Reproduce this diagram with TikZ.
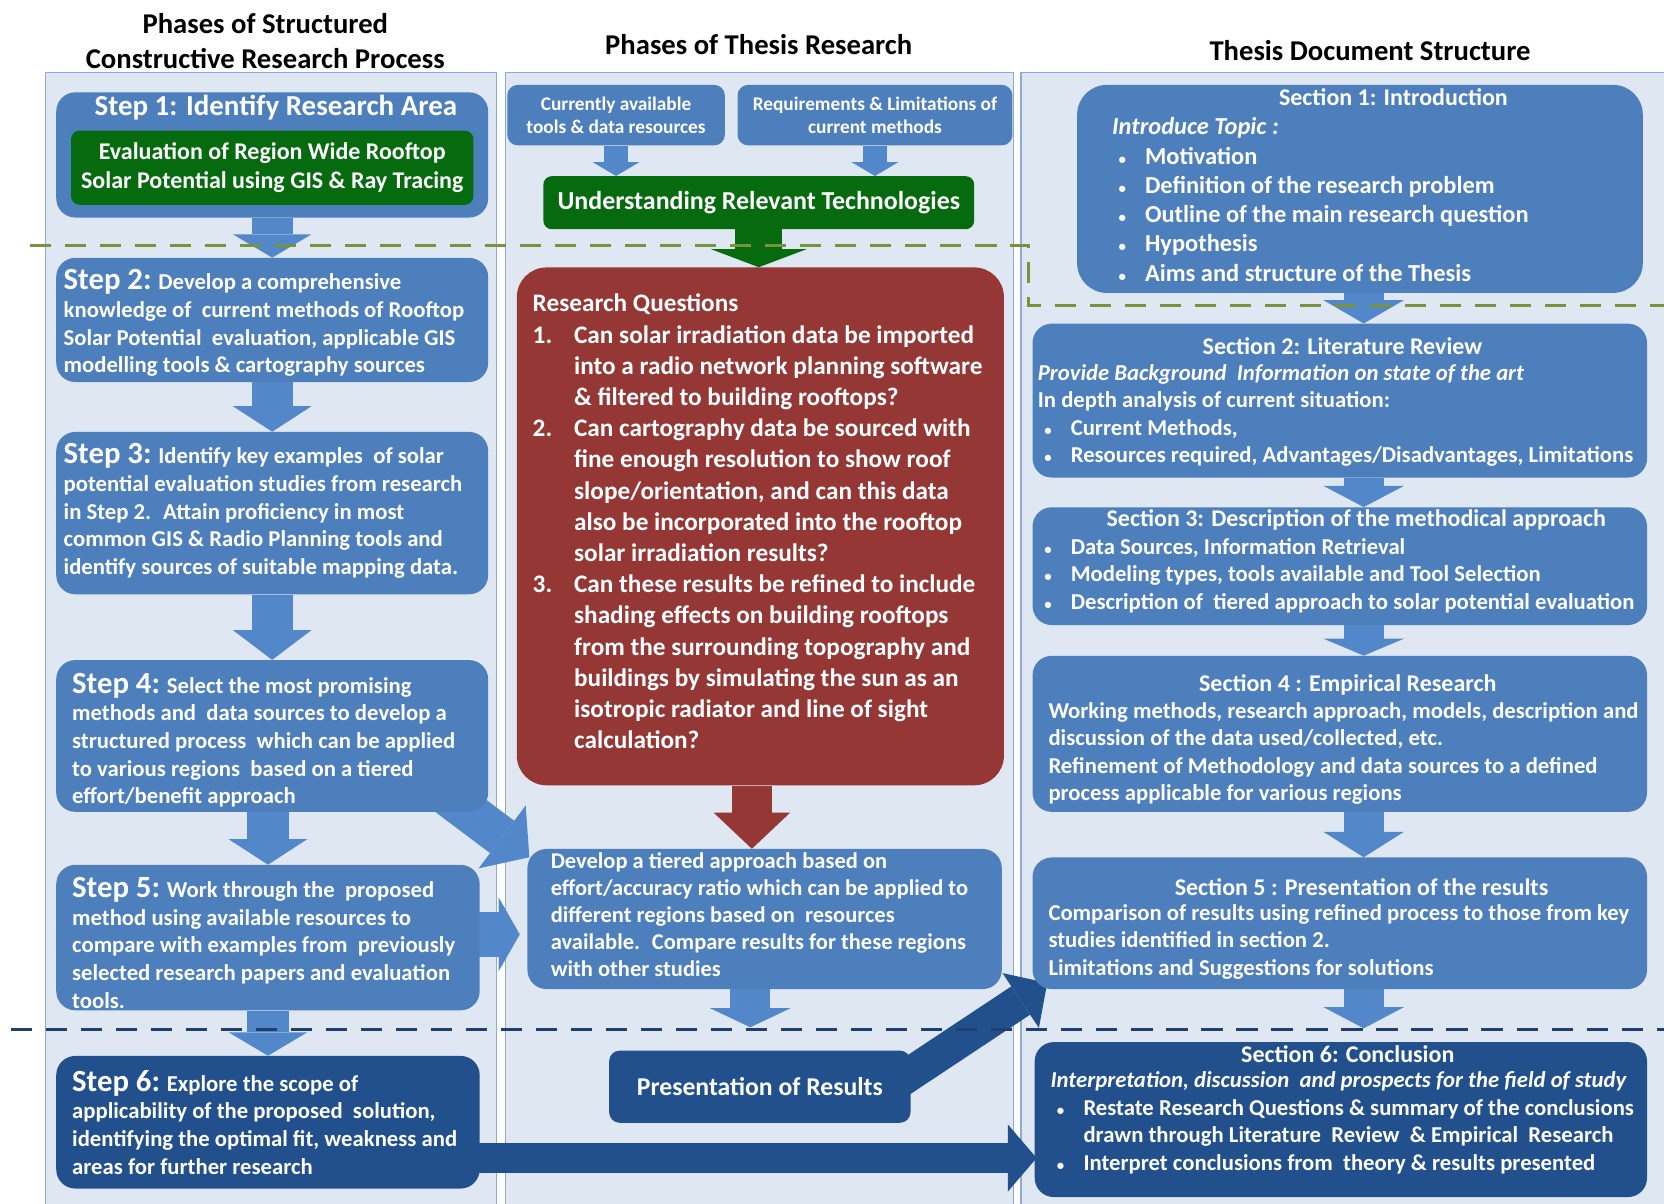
\documentclass[tikz,border=0pt]{standalone}
\usepackage{fontspec}
\setmainfont{Carlito}
\usetikzlibrary{arrows.meta,calc}

\pgfdeclarelayer{panels}
\pgfdeclarelayer{under}
\pgfsetlayers{panels,under,main}

\definecolor{panelfill}{HTML}{DFE7F2}
\definecolor{panelline}{HTML}{8FAAD6}
\definecolor{boxblue}{HTML}{4D7FBD}
\definecolor{boxdark}{HTML}{21508C}
\definecolor{boxgreen}{HTML}{066B0E}
\definecolor{boxred}{HTML}{953735}
\definecolor{arrowblue}{HTML}{5288C9}
\definecolor{dashgreen}{HTML}{77933C}
\definecolor{dashnavy}{HTML}{1F3F6E}

\newcommand{\fsz}[2]{\fontsize{#1}{#2}\selectfont}
\newcommand{\smallbullet}{{\fsz{14}{14}\textbullet}}
\newcommand{\bitem}[1]{\hspace*{6pt}\makebox[25pt][l]{\smallbullet}#1}
\newcommand{\bcont}{\hspace*{31pt}}
\newcommand{\qnum}[1]{\makebox[39pt][l]{#1}}
\newcommand{\qcont}{\hspace*{39pt}}
\newcommand{\stepno}[1]{{\fsz{29}{26}#1}}

\tikzset{
  card/.style={rounded corners=18pt, inner sep=0pt, draw=none},
  bluecard/.style={card, fill=boxblue},
  darkcard/.style={card, fill=boxdark},
  greencard/.style={card, fill=boxgreen},
  redcard/.style={card, fill=boxred},
  txt/.style={text=white, font=\bfseries\fsz{21.4}{26}, align=left, inner sep=0pt, anchor=west},
  ctxt/.style={text=white, font=\bfseries\fsz{22.6}{26}, align=center, inner sep=0pt},
  coltitle/.style={text=black, font=\bfseries\fsz{27}{33}, align=center, inner sep=0pt},
  panel/.style={draw=panelline, line width=1.2pt, fill=panelfill},
  fatarrow/.style n args={3}{line width=#1, -{Triangle[width=#2, length=#3, line width=0pt]}},
  dashline/.style={line width=3pt, dash pattern=on 20pt off 13pt},
}

\begin{document}
\begin{tikzpicture}[x=1pt, y=-1pt]
\useasboundingbox (0,0) rectangle (1568,1134);
\clip (0,0) rectangle (1568,1134);

% column panels
\begin{pgfonlayer}{panels}
  \fill[white] (0,0) rectangle (1568,1134);
  \draw[panel] (43,68) rectangle (468,1145);
  \draw[panel] (476,68) rectangle (955,1145);
  \draw[panel] (962,68) rectangle (1580,1145);
\end{pgfonlayer}

% column headings
\node[coltitle] (h1) at (250,38.5) {Phases of Structured\\Constructive Research Process};
\node[coltitle] (h2) at (715,42) {Phases of Thesis Research};
\node[coltitle] (h3) at (1291,48) {Thesis Document Structure};

% ---------- left column: research process steps ----------
\node[bluecard, minimum width=407, minimum height=118] (step1) at (256.5,146) {};
\node[ctxt, font=\bfseries\fsz{27.3}{30}] (step1t) at (260,101) {Step 1: Identify Research Area};
\node[greencard, rounded corners=8pt, minimum width=379, minimum height=70] (sol) at (256.5,158) {};
\node[ctxt, font=\bfseries\fsz{22.6}{28}] (solt) at (sol) {Evaluation of Region Wide Rooftop\\Solar Potential using GIS \& Ray Tracing};

\node[bluecard, minimum width=407, minimum height=117] (step2) at (256.5,301.5) {};
\node[txt] (step2t) at ($(step2.west)+(7,3)$) {\stepno{Step 2:} Develop a comprehensive\\knowledge of~ current methods of Rooftop\\Solar Potential~ evaluation, applicable GIS\\modelling tools \& cartography sources};

\node[bluecard, minimum width=407, minimum height=153] (step3) at (256.5,483.5) {};
\node[txt] (step3t) at ($(step3.west)+(7,-2)$) {\stepno{Step 3:} Identify key examples~ of solar\\potential evaluation studies from research\\in Step 2.~ Attain proficiency in most\\common GIS \& Radio Planning tools and\\identify sources of suitable mapping data.};

\node[bluecard, minimum width=407, minimum height=143] (step4) at (256.5,693.5) {};
\node[txt] (step4t) at ($(step4.west)+(15,4)$) {\stepno{Step 4:} Select the most promising\\methods and~ data sources to develop a\\structured process~ which can be applied\\to various regions~ based on a tiered\\effort/benefit approach};

\node[bluecard, minimum width=399, minimum height=137] (step5) at (252.5,883.5) {};
\node[txt] (step5t) at ($(step5.west)+(15,5)$) {\stepno{Step 5:} Work through the~ proposed\\method using available resources to\\compare with examples from~ previously\\selected research papers and evaluation\\tools.};

\node[darkcard, minimum width=399, minimum height=125] (step6) at (252.5,1057.5) {};
\node[txt] (step6t) at ($(step6.west)+(15,0)$) {\stepno{Step 6:} Explore the scope of\\applicability of the proposed~ solution,\\identifying the optimal fit, weakness and\\areas for further research};

% ---------- middle column: thesis research ----------
\node[bluecard, rounded corners=10pt, minimum width=205, minimum height=57] (tools) at (580.5,108.5) {};
\node[ctxt, font=\bfseries\fsz{18.2}{22}] (toolst) at (tools) {Currently available\\tools \& data resources};
\node[bluecard, rounded corners=10pt, minimum width=259, minimum height=57] (reqs) at (824.5,108.5) {};
\node[ctxt, font=\bfseries\fsz{18.2}{22}] (reqst) at (reqs) {Requirements \& Limitations of\\current methods};

\node[greencard, rounded corners=8pt, minimum width=406, minimum height=50] (urt) at (715,191) {};
\node[ctxt, font=\bfseries\fsz{24.4}{26}] (urtt) at (urt) {Understanding Relevant Technologies};

\node[redcard, rounded corners=28pt, minimum width=459, minimum height=488] (rq) at (716.5,496) {};
\node[txt, font=\bfseries\fsz{23.8}{29.4}] (rqt) at ($(rq.west)+(15,-4.5)$) {Research Questions\\
\qnum{1.}Can solar irradiation data be imported\\
\qcont into a radio network planning software\\
\qcont \& filtered to building rooftops?\\
\qnum{2.}Can cartography data be sourced with\\
\qcont fine enough resolution to show roof\\
\qcont slope/orientation, and can this data\\
\qcont also be incorporated into the rooftop\\
\qcont solar irradiation results?\\
\qnum{3.}Can these results be refined to include\\
\qcont shading effects on building rooftops\\
\qcont from the surrounding topography and\\
\qcont buildings by simulating the sun as an\\
\qcont isotropic radiator and line of sight\\
\qcont calculation?};

\node[bluecard, minimum width=447, minimum height=132] (tier) at (720.5,866) {};
\node[txt, font=\bfseries\fsz{21.2}{25.5}] (tiert) at ($(tier.west)+(22,-4)$) {Develop a tiered approach based on\\effort/accuracy ratio which can be applied to\\different regions based on~ resources\\available.~ Compare results for these regions\\with other studies};

\node[darkcard, rounded corners=10pt, minimum width=284, minimum height=68] (pres) at (716,1024) {};
\node[ctxt, font=\bfseries\fsz{24.2}{26}] (prest) at (pres) {Presentation of Results};

% ---------- right column: thesis document ----------
\node[bluecard, rounded corners=28pt, minimum width=533, minimum height=196] (sec1) at (1281.5,178) {};
\node[ctxt] (sec1h) at (1313,92) {Section 1: Introduction};
\node[txt, font=\bfseries\fsz{23}{27.6}] (sec1t) at ($(sec1.west)+(33,10)$) {\textit{Introduce Topic :}\\
\bitem{Motivation}\\
\bitem{Definition of the research problem}\\
\bitem{Outline of the main research question}\\
\bitem{Hypothesis}\\
\bitem{Aims and structure of the Thesis}};

\node[bluecard, minimum width=579, minimum height=145] (sec2) at (1262.5,377.5) {};
\node[ctxt] (sec2h) at (1265,326) {Section 2: Literature Review};
\node[txt] (sec2t) at ($(sec2.west)+(5,14)$) {\textit{Provide Background~ Information on state of the art}\\
In depth analysis of current situation:\\
\bitem{Current Methods,}\\
\bitem{Resources required, Advantages/Disadvantages, Limitations}};

\node[bluecard, minimum width=579, minimum height=111] (sec3) at (1262.5,533.5) {};
\node[ctxt] (sec3h) at (1278,490) {Section 3: Description of the methodical approach};
\node[txt] (sec3t) at ($(sec3.west)+(5,9)$) {\bitem{Data Sources, Information Retrieval}\\
\bitem{Modeling types, tools available and Tool Selection}\\
\bitem{Description of~ tiered approach to solar potential evaluation}};

\node[bluecard, minimum width=579, minimum height=147] (sec4) at (1262.5,691.5) {};
\node[ctxt] (sec4h) at (1270,645) {Section 4 : Empirical Research};
\node[txt] (sec4t) at ($(sec4.west)+(15,18.5)$) {Working methods, research approach, models, description and\\
discussion of the data used/collected, etc.\\
Refinement of Methodology and data sources to a defined\\
process applicable for various regions};

\node[bluecard, minimum width=579, minimum height=124] (sec5) at (1262.5,870) {};
\node[ctxt] (sec5h) at (1283,836) {Section 5 : Presentation of the results};
\node[txt] (sec5t) at ($(sec5.west)+(15,17.5)$) {Comparison of results using refined process to those from key\\
studies identified in section 2.\\
Limitations and Suggestions for solutions};

\node[darkcard, minimum width=577, minimum height=146] (sec6) at (1263.5,1055) {};
\node[ctxt] (sec6h) at (1270,993) {Section 6: Conclusion};
\node[txt] (sec6t) at ($(sec6.west)+(15,3)$) {\textit{Interpretation, discussion~ and prospects for the field of study}\\
\bitem{Restate Research Questions \& summary of the conclusions}\\
\bcont drawn through Literature~ Review~ \& Empirical~ Research\\
\bitem{Interpret conclusions from~ theory \& results presented}};

% ---------- block arrows ----------
\coordinate (rcol) at (1285,0);
\coordinate (tierend) at (707,968);
\coordinate (sec5end) at (1285,969);
\coordinate (s5tip) at ($(tier.west |- step5.east)+(-7,-3)$);

\draw[fatarrow={39pt}{74pt}{22pt}, arrowblue] (step1.south) -- (step1.south |- step2.north);
\draw[fatarrow={39pt}{74pt}{24pt}, arrowblue] (step2.south) -- (step2.south |- step3.north);
\draw[fatarrow={39pt}{74pt}{28pt}, arrowblue] (step3.south) -- (step3.south |- step4.north);
\draw[fatarrow={39pt}{74pt}{24pt}, arrowblue] (step5.north |- step4.south) -- (step5.north);
\draw[fatarrow={39pt}{74pt}{22pt}, arrowblue] (step5.south) -- (step6.north);

\draw[fatarrow={22pt}{44pt}{13pt}, arrowblue] (tools.south) -- (tools.south |- urt.north);
\draw[fatarrow={22pt}{44pt}{13pt}, arrowblue] (reqs.south) -- (reqs.south |- urt.north);
\draw[fatarrow={44pt}{90pt}{17pt}, boxgreen] (urt.south) -- (urt.south |- rq.north);
\draw[fatarrow={38pt}{72pt}{34pt}, boxred] ([xshift=-8]rq.south) -- ([xshift=-8]rq.south |- tier.north);
\draw[fatarrow={38pt}{76pt}{18pt}, arrowblue] (tierend |- tier.south) -- (tierend);

\draw[fatarrow={38pt}{76pt}{22pt}, arrowblue] (rcol |- sec1.south) -- (rcol |- sec2.north);
\draw[fatarrow={38pt}{76pt}{20pt}, arrowblue] (rcol |- sec2.south) -- (rcol |- sec3.north);
\draw[fatarrow={38pt}{76pt}{16pt}, arrowblue] (rcol |- sec3.south) -- (rcol |- sec4.north);
\draw[fatarrow={38pt}{76pt}{24pt}, arrowblue] (rcol |- sec4.south) -- (rcol |- sec5.north);
\draw[fatarrow={38pt}{76pt}{20pt}, arrowblue] (rcol |- sec5.south) -- (sec5end);

\begin{pgfonlayer}{under}
  \draw[fatarrow={38pt}{74pt}{32pt}, arrowblue] ($(step4.south east)+(-45,-20)$) -- ($(tier.north west)+(2,8)$);
  \draw[fatarrow={42pt}{70pt}{20pt}, arrowblue] ($(step5.east)+(-10,-3)$) -- (s5tip);
  \draw[fatarrow={32pt}{62pt}{30pt}, boxdark] ($(pres.north east)+(-20,35)$) -- ($(sec5.south west)+(14,-6)$);
  \draw[fatarrow={29pt}{63pt}{27pt}, boxdark] ($(step6.south east)+(-5,-29)$) -- ($(sec6.south west)+(2,-37)$);
\end{pgfonlayer}

% ---------- phase boundaries ----------
\draw[dashline, dashgreen] (28,231) -- (969,231) -- (969,288) -- (1568,288);
\draw[dashline, dashnavy] (10,970) -- (1568,970);

\end{tikzpicture}
\end{document}
